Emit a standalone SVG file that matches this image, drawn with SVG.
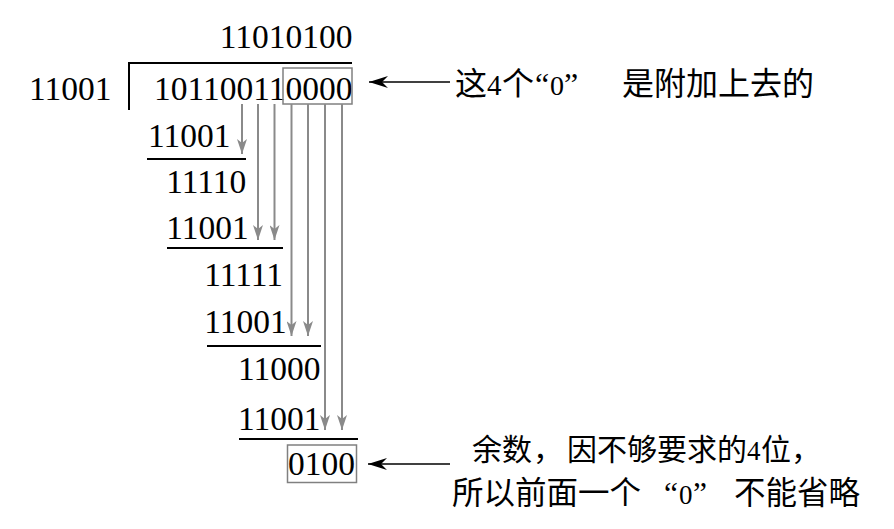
<svg xmlns="http://www.w3.org/2000/svg" width="894" height="529" viewBox="0 0 894 529">
  <style>
    .num { font-family: "Liberation Serif", "Times New Roman", serif; font-size: 33.5px; fill: #000; }
    .cjk { font-family: "Liberation Serif", "Noto Sans CJK SC", serif; fill: #000; }
    .rule { stroke: #000; stroke-width: 2; fill: none; }
    .box { stroke: #808080; stroke-width: 1.5; fill: none; }
    .garrow { stroke: #8a8a8a; stroke-width: 2; fill: none; marker-end: url(#ag); }
    .barrow { stroke: #000; stroke-width: 1.6; fill: none; marker-end: url(#ab); }
  </style>
  <defs>
    <marker id="ag" markerUnits="userSpaceOnUse" viewBox="0 0 16 10" markerWidth="16" markerHeight="10" refX="15" refY="5" orient="auto">
      <path d="M0,0 L15,5 L0,10 L4,5 Z" fill="#8a8a8a"/>
    </marker>
    <marker id="ab" markerUnits="userSpaceOnUse" viewBox="0 0 20 12" markerWidth="20" markerHeight="12" refX="19" refY="6" orient="auto">
      <path d="M0,0 L19,6 L0,12 L6,6 Z" fill="#000"/>
    </marker>
  </defs>
  <rect width="894" height="529" fill="#fff"/>

  <g id="quotient"><text class="num" x="352.5" y="48" text-anchor="end">11010100</text></g>
  <g id="divisor"><text class="num" x="111.5" y="100" text-anchor="end">11001</text></g>
  <g id="division-bracket">
    <path class="rule" d="M129,110 L129,63 L352,63"/>
  </g>
  <g id="dividend">
    <text class="num" x="352.5" y="100" text-anchor="end">101100110000</text>
    <rect class="box" x="283" y="68" width="69" height="36"/>
  </g>

  <g id="row1"><text class="num" x="148" y="147">11001</text><line class="rule" x1="147" y1="159" x2="246" y2="159"/></g>
  <g id="row2"><text class="num" x="166.3" y="193">11110</text></g>
  <g id="row3"><text class="num" x="166.3" y="239">11001</text><line class="rule" x1="167" y1="248" x2="283" y2="248"/></g>
  <g id="row4"><text class="num" x="204.3" y="286">11111</text></g>
  <g id="row5"><text class="num" x="204.3" y="333">11001</text><line class="rule" x1="207" y1="346" x2="321" y2="346"/></g>
  <g id="row6"><text class="num" x="238" y="380">11000</text></g>
  <g id="row7"><text class="num" x="238" y="430">11001</text><line class="rule" x1="239" y1="439" x2="358" y2="439"/></g>
  <g id="remainder">
    <text class="num" x="288" y="475">0100</text>
    <rect class="box" x="287.5" y="445" width="69" height="37.5"/>
  </g>

  <g id="label-top">
    <text class="cjk" y="95" font-size="32"><tspan x="455">这</tspan><tspan x="487" font-size="29">4</tspan><tspan x="502">个</tspan><tspan x="535">“</tspan><tspan x="550" font-size="28">0</tspan><tspan x="564">”</tspan><tspan x="622">是附加上去的</tspan></text>
  </g>
  <g id="label-bottom">
    <text class="cjk" y="460" font-size="30"><tspan x="472">余数</tspan><tspan x="533">，</tspan><tspan x="567">因不够要求的</tspan><tspan x="747" font-size="27">4</tspan><tspan x="761">位</tspan><tspan x="791">，</tspan></text>
    <text class="cjk" y="504" font-size="31.5"><tspan x="452">所以前面一个</tspan><tspan x="664">“</tspan><tspan x="679" font-size="27">0</tspan><tspan x="693">”</tspan><tspan x="734">不能省略</tspan></text>
  </g>

  <g id="connectors">
    <line class="garrow" x1="242" y1="104" x2="242" y2="154"/>
    <line class="garrow" x1="258" y1="104" x2="258" y2="240"/>
    <line class="garrow" x1="274.5" y1="104" x2="274.5" y2="240"/>
    <line class="garrow" x1="291.5" y1="104" x2="291.5" y2="336"/>
    <line class="garrow" x1="308" y1="104" x2="308" y2="336"/>
    <line class="garrow" x1="325" y1="104" x2="325" y2="430"/>
    <line class="garrow" x1="342" y1="104" x2="342" y2="430"/>
    <line class="barrow" x1="450" y1="82" x2="369" y2="82"/>
    <line class="barrow" x1="450" y1="464" x2="368" y2="464"/>
  </g>
</svg>
